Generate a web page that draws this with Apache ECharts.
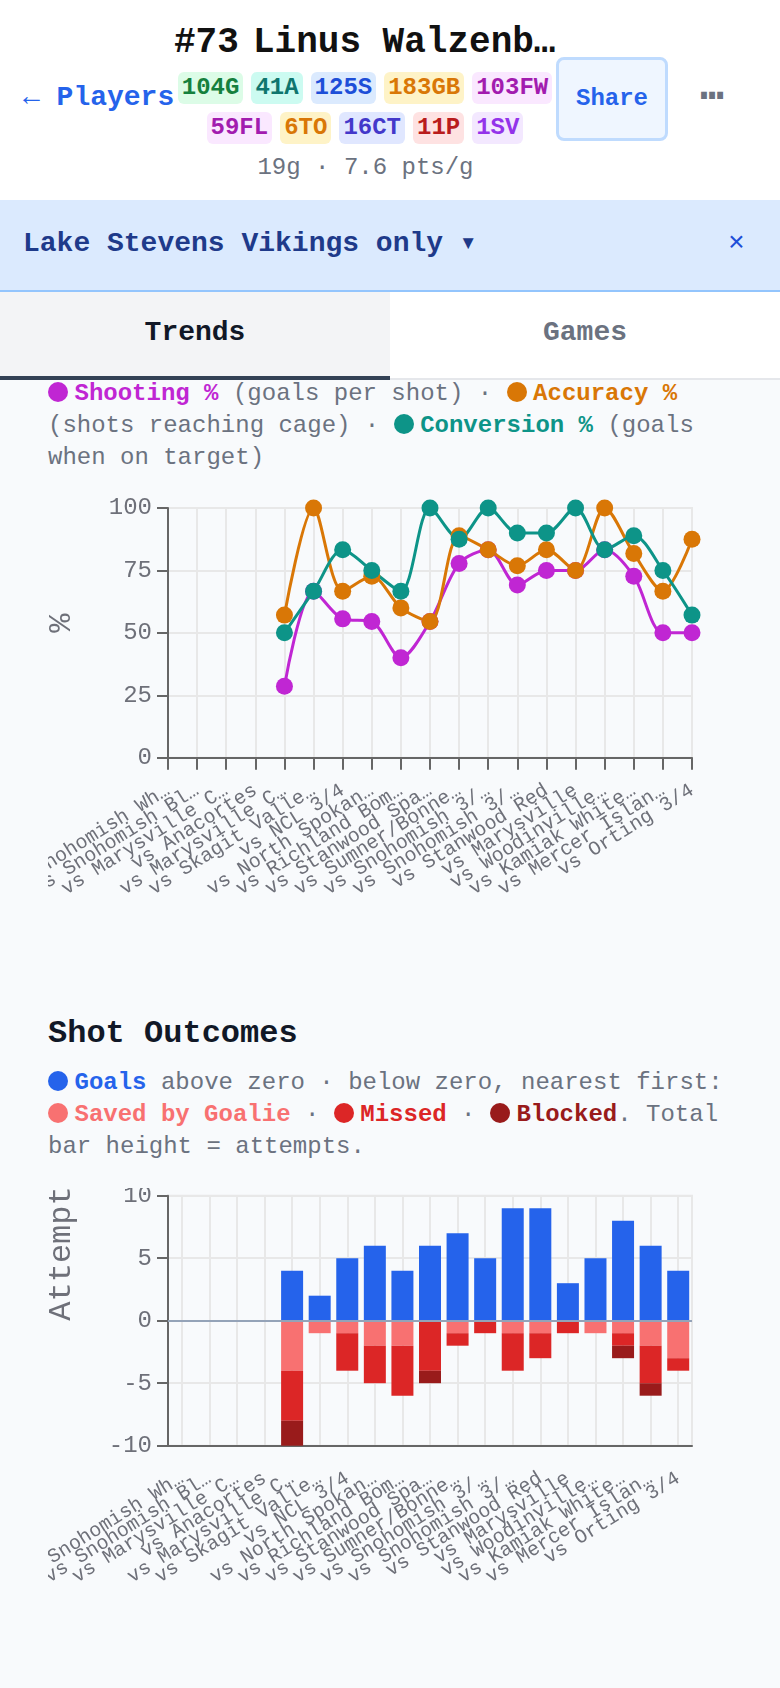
<!DOCTYPE html>
<html><head><meta charset="utf-8">
<script src="https://cdn.jsdelivr.net/npm/echarts@6/dist/echarts.min.js"></script>
<style>
html,body{margin:0;padding:0;}
body{width:780px;height:1688px;background:#f8fafc;font-family:"Liberation Mono",monospace;position:relative;overflow:hidden;color:#6b7280;}
.a{position:absolute;white-space:nowrap;}
#hdr{position:absolute;left:0;top:0;width:780px;height:200px;background:#fff;}
.row{position:absolute;left:165px;width:400px;display:flex;justify-content:center;gap:8px;}
.bd{height:32px;line-height:32px;padding:0 4px;border-radius:6px;font-size:24px;font-weight:bold;}
.dot{display:inline-block;width:20px;height:20px;border-radius:50%;vertical-align:-2px;margin-right:6.5px;}
.lg{position:absolute;left:48px;width:684px;font-size:24px;line-height:32px;color:#6b7280;}
.lg b{font-weight:bold;}
</style></head>
<body>
<div id="hdr"></div>
<div class="a" style="left:174px;top:23px;font-size:36px;line-height:40px;font-weight:bold;color:#111;">#73</div>
<div class="a" style="left:253px;top:23px;font-size:36px;line-height:40px;font-weight:bold;color:#111;">Linus Walzenb…</div>
<div class="a" style="left:23px;top:82px;font-size:28px;line-height:32px;font-weight:bold;color:#2563eb;">← Players</div>
<div class="row" style="top:72px;">
  <span class="bd" style="background:#dcfce7;color:#15803d">104G</span>
  <span class="bd" style="background:#ccfbf1;color:#0f766e">41A</span>
  <span class="bd" style="background:#dbeafe;color:#1d4ed8">125S</span>
  <span class="bd" style="background:#fef3c7;color:#d97706">183GB</span>
  <span class="bd" style="background:#fae8ff;color:#a21caf">103FW</span>
</div>
<div class="row" style="top:112px;">
  <span class="bd" style="background:#fae8ff;color:#a21caf">59FL</span>
  <span class="bd" style="background:#fef3c7;color:#d97706">6TO</span>
  <span class="bd" style="background:#e0e7ff;color:#4338ca">16CT</span>
  <span class="bd" style="background:#fee2e2;color:#b91c1c">11P</span>
  <span class="bd" style="background:#f3e8ff;color:#9333ea">1SV</span>
</div>
<div class="a" style="left:556px;top:57px;width:106px;height:78px;border:3px solid #bfdbfe;background:#eff6ff;border-radius:8px;text-align:center;line-height:78px;font-size:24px;font-weight:bold;color:#2563eb;">Share</div>
<div class="a" style="left:700px;top:76px;font-size:40px;line-height:44px;font-weight:bold;color:#6b7280;">⋯</div>
<div class="a" style="left:0;width:731px;text-align:center;top:152px;font-size:24px;line-height:32px;color:#6b7280;">19g · 7.6 pts/g</div>

<div class="a" style="left:0;top:200px;width:780px;height:89.5px;background:#dbeafe;border-bottom:2px solid #93c5fd;"></div>
<div class="a" style="left:23px;top:228px;font-size:28px;line-height:32px;font-weight:bold;color:#1e3a8a;">Lake Stevens Vikings only ▾</div>
<div class="a" style="left:728px;top:228px;font-size:28px;line-height:32px;color:#1d4ed8;">×</div>

<div class="a" style="left:0;top:291.5px;width:390px;height:84.5px;background:#f3f4f6;border-bottom:4px solid #334155;"></div>
<div class="a" style="left:390px;top:291.5px;width:390px;height:86.5px;background:#fff;border-bottom:2px solid #e5e7eb;"></div>
<div class="a" style="left:0;width:390px;text-align:center;top:317px;font-size:28px;line-height:32px;font-weight:bold;color:#111827;">Trends</div>
<div class="a" style="left:390px;width:390px;text-align:center;top:317px;font-size:28px;line-height:32px;font-weight:bold;color:#6b7280;">Games</div>

<div class="lg" style="top:378px;"><span class="dot" style="background:#c026d3"></span><b style="color:#c026d3">Shooting %</b> (goals per shot) · <span class="dot" style="background:#d97706"></span><b style="color:#d97706">Accuracy %</b> (shots reaching cage) · <span class="dot" style="background:#0d9488"></span><b style="color:#0d9488">Conversion %</b> (goals when on target)</div>

<div id="c1" class="a" style="left:48px;top:470px;width:684px;height:440px;"></div>

<div class="a" style="left:48px;top:1014px;font-size:32px;line-height:40px;font-weight:bold;color:#111827;">Shot Outcomes</div>
<div class="lg" style="top:1067px;"><span class="dot" style="background:#2563eb"></span><b style="color:#2563eb">Goals</b> above zero · below zero, nearest first: <span class="dot" style="background:#f87171"></span><b style="color:#f87171">Saved by Goalie</b> · <span class="dot" style="background:#dc2626"></span><b style="color:#dc2626">Missed</b> · <span class="dot" style="background:#991b1b"></span><b style="color:#991b1b">Blocked</b>. Total bar height = attempts.</div>

<div id="c2" class="a" style="left:48px;top:1188px;width:684px;height:412px;"></div>

<script>
const categories = ["vs Snohomish Wh…","vs Snohomish Bl…","vs Marysville C…","vs Anacortes","vs Marysville C…","vs Skagit Valle…","vs NCL 3/4","vs North Spokan…","vs Richland Bom…","vs Stanwood Spa…","vs Sumner/Bonne…","vs Snohomish 3/…","vs Snohomish 3/…","vs Stanwood Red","vs Marysville","vs Woodinville…","vs Kamiak White…","vs Mercer Islan…","vs Orting 3/4"];

const shootingPct   = [null,null,null,null,28.6,66.7,55.6,54.5,40,54.5,77.8,83.3,69.2,75,75,83.3,72.7,50,50];
const accuracyPct   = [null,null,null,null,57.1,100,66.7,72.7,60,54.5,88.9,83.3,76.9,83.3,75,100,81.8,66.7,87.5];
const conversionPct = [null,null,null,null,50,66.7,83.3,75,66.7,100,87.5,100,90,90,100,83.3,88.9,75,57.1];

const goals   = [null,null,null,null,4,2,5,6,4,6,7,5,9,9,3,5,8,6,4];
const saved   = [null,null,null,null,-4,-1,-1,-2,-2,0,-1,0,-1,-1,0,-1,-1,-2,-3];
const missed  = [null,null,null,null,-4,0,-3,-3,-4,-4,-1,-1,-3,-2,-1,0,-1,-3,-1];
const blocked = [null,null,null,null,-2,0,0,0,0,-1,0,0,0,0,0,0,-1,-1,0];

const FONT = 'Liberation Mono';
const AX = '#666';
const LBL = '#6E7079';
const SPL = '#e8e8e8';

function lineSeries(name, data, color){
  return {type:'line', name, data, smooth:0.3, symbol:'circle', symbolSize:17, showAllSymbol:true,
    lineStyle:{width:3,color}, itemStyle:{color}, emphasis:{disabled:true}};
}

const xLabel = {rotate:32, interval:0, margin:31, color:LBL, fontSize:20, fontFamily:FONT};

const c1 = echarts.init(document.getElementById('c1'));
c1.setOption({
  animation:false,
  grid:{left:120, top:38, width:524, height:249.7, outerBoundsMode:'none', containLabel:false, show:true, borderColor:SPL, borderWidth:2, backgroundColor:'transparent'},
  xAxis:{type:'category', data:categories, boundaryGap:false,
    axisLine:{lineStyle:{color:AX,width:2}},
    axisTick:{length:12, lineStyle:{color:AX,width:2}},
    axisLabel:xLabel,
    splitLine:{show:true, lineStyle:{color:SPL,width:2}}},
  yAxis:{type:'value', min:0, max:100, interval:25,
    name:'%', nameLocation:'middle', nameGap:90,
    nameTextStyle:{align:'left', fontSize:32, fontFamily:FONT, color:LBL},
    axisLine:{show:true, lineStyle:{color:AX,width:2}},
    axisTick:{show:true, length:11, lineStyle:{color:AX,width:2}},
    axisLabel:{margin:16, color:LBL, fontSize:24, fontFamily:FONT},
    splitLine:{lineStyle:{color:SPL,width:2}}},
  series:[
    lineSeries('Shooting %', shootingPct, '#c026d3'),
    lineSeries('Accuracy %', accuracyPct, '#d97706'),
    lineSeries('Conversion %', conversionPct, '#0d9488')
  ]
});

function barSeries(name, data, color, extra){
  return Object.assign({type:'bar', name, data, stack:'shots', barWidth:22, itemStyle:{color}, emphasis:{disabled:true}}, extra||{});
}

const c2 = echarts.init(document.getElementById('c2'));
c2.setOption({
  animation:false,
  grid:{left:120, top:7.7, width:524, height:250, outerBoundsMode:'none', containLabel:false, show:true, borderColor:SPL, borderWidth:2, backgroundColor:'transparent'},
  xAxis:{type:'category', data:categories,
    axisLine:{onZero:false, lineStyle:{color:AX,width:2}},
    axisTick:{alignWithLabel:true, length:12, lineStyle:{color:AX,width:2}},
    axisLabel:xLabel,
    splitLine:{show:true, alignWithLabel:true, lineStyle:{color:SPL,width:2}}},
  yAxis:{type:'value', min:-10, max:10, interval:5,
    name:'Attempts', nameLocation:'middle', nameGap:90,
    nameTextStyle:{align:'left', fontSize:32, fontFamily:FONT, color:LBL},
    axisLine:{show:true, lineStyle:{color:AX,width:2}},
    axisTick:{show:true, length:11, lineStyle:{color:AX,width:2}},
    axisLabel:{margin:16, color:LBL, fontSize:24, fontFamily:FONT},
    splitLine:{lineStyle:{color:SPL,width:2}}},
  series:[
    barSeries('Goals', goals, '#2563eb', {markLine:{silent:true, symbol:'none', label:{show:false},
      lineStyle:{color:'#94a3b8', width:2, type:'solid'}, data:[{yAxis:0}]}}),
    barSeries('Saved by Goalie', saved, '#f87171'),
    barSeries('Missed', missed, '#dc2626'),
    barSeries('Blocked', blocked, '#991b1b')
  ]
});
</script>
</body></html>
